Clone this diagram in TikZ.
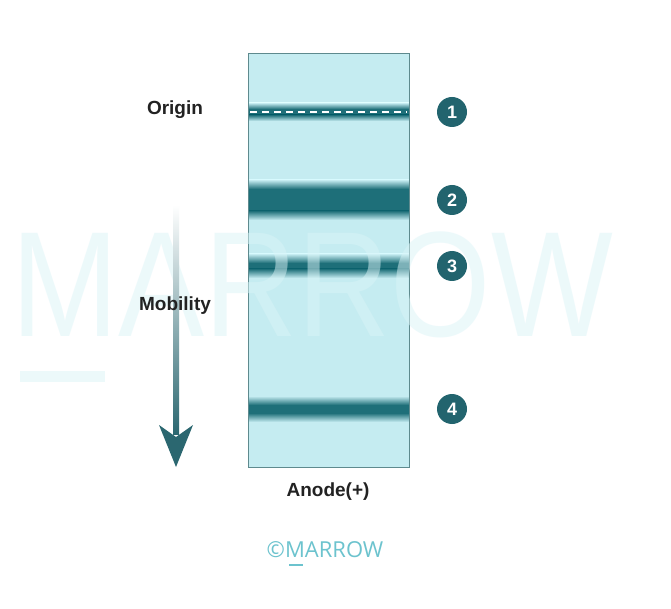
\documentclass[tikz,border=0pt]{standalone}
\usepackage{fontspec}
\setmainfont{Liberation Sans}
\newfontfamily\logofont{Open Sans}
\definecolor{gel}{HTML}{C5ECF1}
\definecolor{rim}{HTML}{5E8A8E}
\definecolor{band}{HTML}{1E6F79}
\definecolor{dot}{HTML}{22646E}
\definecolor{arrowteal}{HTML}{2B6770}
\definecolor{ink}{HTML}{222222}
\definecolor{logo}{HTML}{6CC3CE}
\definecolor{mark}{HTML}{DAF4F7}
\tikzset{
	lbl/.style={text=ink,font=\bfseries\fontsize{19}{22}\selectfont},
	num/.style={circle,fill=dot,text=white,minimum size=30pt,inner sep=0pt,font=\bfseries\fontsize{18}{18}\selectfont}
}
\begin{document}
\begin{tikzpicture}[x=1pt,y=-1pt]
		\useasboundingbox[fill=white] (0,0) rectangle (671,609);
		\fill[color=gel] (248,53) rectangle (409,467);
		\foreach \y/\h/\f in {112/3/6,200/11/9,266/3/9,409/4/9}{
			\fill[color=band] (248,\y-\h) rectangle (409,\y+\h);
			\shade[top color=gel,bottom color=band] (248,\y-\h-\f) rectangle (409,\y-\h);
			\shade[top color=band,bottom color=gel] (248,\y+\h) rectangle (409,\y+\h+\f);
		}
		\draw[color=white,line width=1.2pt,dash pattern=on 7pt off 5pt] (250,112) -- (407,112);
		\draw[color=rim,line width=0.8pt] (248,53) rectangle (409,467);
		\node[text=mark,text opacity=0.5,font=\fontsize{150}{150}\selectfont,xscale=0.86] (wm) at (312,285) {MARROW};
		\draw[color=mark,opacity=0.5,line width=11pt] (20,376) -- (105,376);
		\shade[top color=white,bottom color=arrowteal] (173,205) rectangle (179,434);
		\fill[color=arrowteal] (176,467) -- (159,425) -- (176,437) -- (193,425) -- cycle;
		\foreach \n/\y in {1/112,2/200,3/266,4/409}
			\node[num] (n\n) at (452,\y) {\n};
		\node[lbl] (origin) at (175,110) {Origin};
		\node[lbl] (mob) at (175,306) {Mobility};
		\node[lbl] (anode) at (328,492) {Anode(+)};
		\node[text=logo,font=\logofont\fontsize{22}{22}\selectfont] (copy) at (325,550) {©MARROW};
		\draw[color=logo,line width=1.5pt] (289,565) -- (303,565);
	\end{tikzpicture}
\end{document}
